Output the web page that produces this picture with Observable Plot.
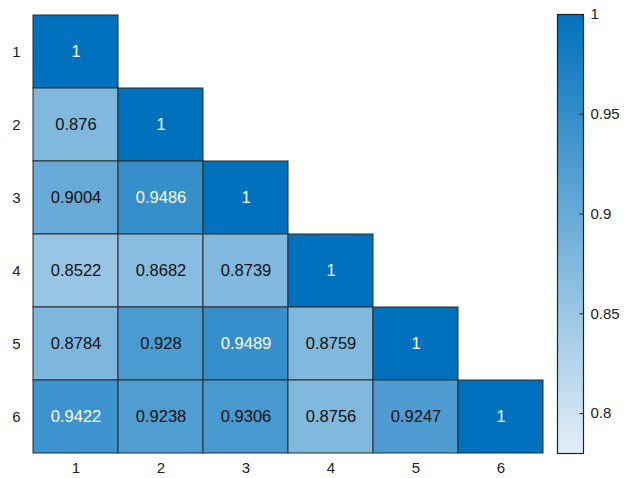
<!DOCTYPE html>
<html><head><meta charset="utf-8">
<script src="https://cdn.jsdelivr.net/npm/d3@7"></script>
<script src="https://cdn.jsdelivr.net/npm/@observablehq/plot@0.6"></script>
<style>
html,body{margin:0;padding:0;background:#fff;}
#wrap{position:relative;width:627px;height:478px;font-family:"Liberation Sans",Arial,sans-serif;}
#main{position:absolute;left:0;top:0;}
#cbar{position:absolute;left:540px;top:0;}
</style></head>
<body><div id="wrap"><div id="main"></div><div id="cbar"></div></div>
<script>
const labels = [1, 2, 3, 4, 5, 6];
const row1 = [1];
const row2 = [0.876, 1];
const row3 = [0.9004, 0.9486, 1];
const row4 = [0.8522, 0.8682, 0.8739, 1];
const row5 = [0.8784, 0.928, 0.9489, 0.8759, 1];
const row6 = [0.9422, 0.9238, 0.9306, 0.8756, 0.9247, 1];
const colorTicks = [0.8, 0.85, 0.9, 0.95, 1];
const colorDomain = [0.78, 1];

const rows = [row1, row2, row3, row4, row5, row6];
const cells = rows.flatMap((r, i) => r.map((v, j) => ({row: labels[i], col: labels[j], value: v})));

const color = {type: "linear", domain: colorDomain, range: ["#e3eef8", "#0072bd"], interpolate: "rgb"};
const font = "Liberation Sans, Arial, sans-serif";

const main = Plot.plot({
  width: 550, height: 478,
  marginLeft: 30, marginRight: 5, marginTop: 14, marginBottom: 25,
  style: {fontFamily: font, fontSize: "15px", color: "#222", background: "transparent"},
  x: {type: "band", domain: labels, padding: 0, label: null},
  y: {type: "band", domain: labels, padding: 0, label: null},
  color,
  marks: [
    Plot.cell(cells, {x: "col", y: "row", fill: "value", stroke: "#2a2a2a", strokeWidth: 1, inset: 0}),
    Plot.text(cells, {x: "col", y: "row", text: d => String(d.value), fontSize: 16.5,
      fill: d => d.value > 0.94 ? "#ffffff" : "#111111"}),
    Plot.axisX({tickSize: 0, tickPadding: 9, fontSize: 15, label: null}),
    Plot.axisY({tickSize: 0, tickPadding: 10, fontSize: 15, label: null})
  ]
});
document.getElementById("main").appendChild(main);

const cbar = Plot.plot({
  width: 87, height: 478,
  marginLeft: 17, marginRight: 44, marginTop: 14, marginBottom: 25,
  style: {fontFamily: font, fontSize: "15px", color: "#222", background: "transparent"},
  x: {domain: [0, 1], axis: null},
  y: {domain: colorDomain, label: null, axis: null},
  color,
  marks: [
    Plot.raster({x1: 0, x2: 1, y1: colorDomain[0], y2: colorDomain[1], width: 1, height: 440, fill: (x, y) => y, interpolate: "nearest", imageRendering: "auto"}),
    Plot.ruleY(colorTicks, {x1: 0.86, x2: 1, stroke: "#222"}),
    Plot.axisY({anchor: "right", ticks: colorTicks, tickFormat: d => String(d), tickSize: 0, tickPadding: 7, fontSize: 15, label: null}),
    Plot.frame({stroke: "#222", strokeWidth: 1.2})
  ]
});
document.getElementById("cbar").appendChild(cbar);
</script></body></html>
